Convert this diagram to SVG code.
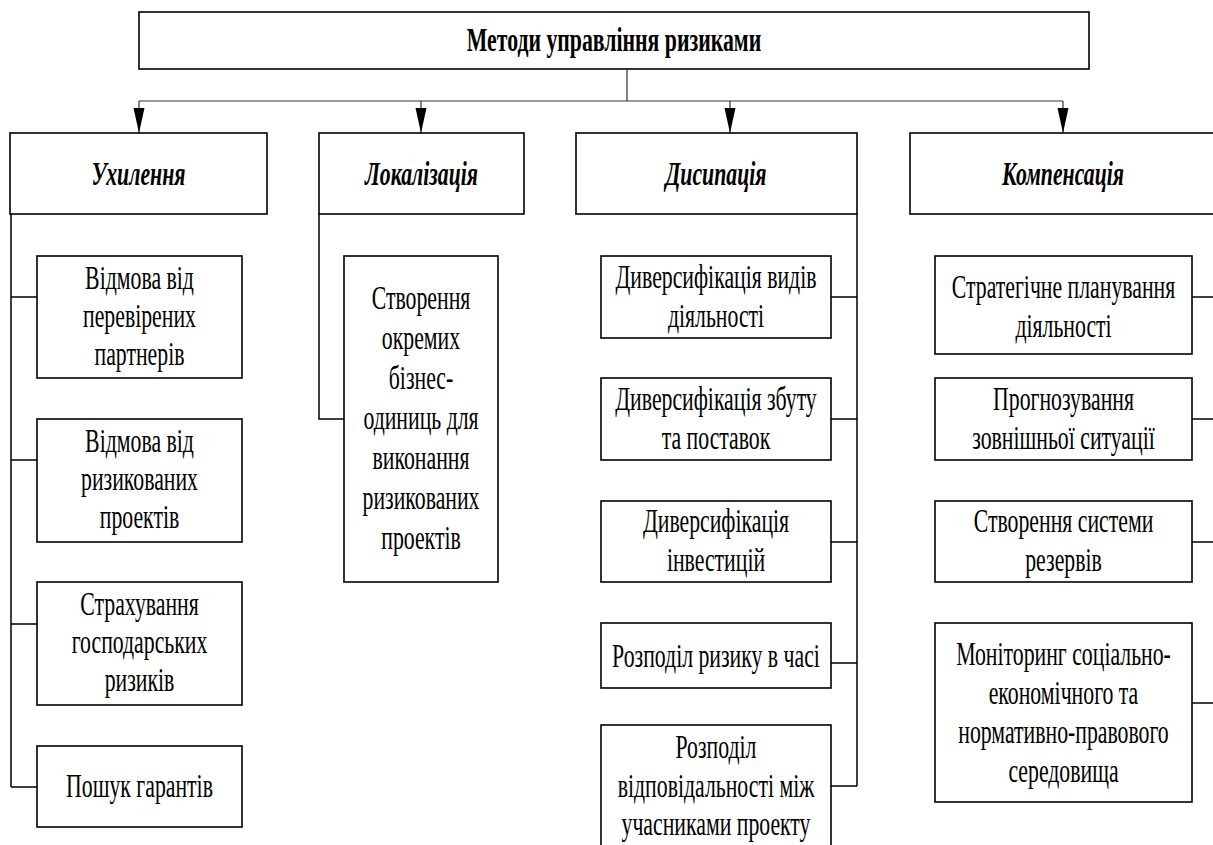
<svg xmlns="http://www.w3.org/2000/svg" width="1213" height="845" viewBox="0 0 1213 845">
<style>
.box{fill:#fff;stroke:#000;stroke-width:1.6}
.t{font-family:"Liberation Serif","Tinos","Times New Roman","DejaVu Serif","Noto Serif",serif;font-size:33px;text-anchor:middle;fill:#000}
.ttl{font-weight:bold}
.cat{font-style:italic;font-weight:bold}
.ln{stroke:#000;stroke-width:1.5;fill:none}
.thin{stroke:#333;stroke-width:1.2;fill:none}
</style>
<defs>
<marker id="ah" markerUnits="userSpaceOnUse" markerWidth="26" markerHeight="12" refX="25" refY="6" orient="auto">
<path d="M0,0.5 L25,6 L0,11.5 z" fill="#000"/>
</marker>
</defs>
<rect width="1213" height="845" fill="#fff"/>
<g id="connectors">
<path class="thin" d="M627,69 V101 M139,101 H1063"/>
<line class="thin" x1="139" y1="101" x2="139" y2="133" marker-end="url(#ah)"/>
<line class="thin" x1="421" y1="101" x2="421" y2="133" marker-end="url(#ah)"/>
<line class="thin" x1="730" y1="101" x2="730" y2="133" marker-end="url(#ah)"/>
<line class="thin" x1="1063" y1="101" x2="1063" y2="133" marker-end="url(#ah)"/>
<path class="ln" d="M11,214 V787 M11,297 H37 M11,460 H37 M11,624 H37 M11,787 H37"/>
<path class="ln" d="M319,214 V419 H344"/>
<path class="ln" d="M857,214 V786 M831,297 H857 M831,419 H857 M831,542 H857 M831,663 H857 M831,786 H857"/>
<path class="ln" d="M1217,214 V703 M1192,297 H1217 M1192,419 H1217 M1192,542 H1217 M1192,703 H1217"/>
</g>
<g id="root">
<rect class="box" x="139" y="12" width="950" height="57"/>
<text class="t ttl" transform="translate(614,0) scale(0.66,1)"><tspan x="0" y="51">Методи управління ризиками</tspan></text>
</g>
<g id="cat-uhylennia">
<rect class="box" x="10" y="133" width="257" height="81"/>
<text class="t cat" transform="translate(138.5,0) scale(0.66,1)"><tspan x="0" y="185">Ухилення</tspan></text>
</g>
<g id="cat-lokalizatsiia">
<rect class="box" x="319" y="133" width="205" height="81"/>
<text class="t cat" transform="translate(421.5,0) scale(0.66,1)"><tspan x="0" y="185">Локалізація</tspan></text>
</g>
<g id="cat-dysypatsiia">
<rect class="box" x="576" y="133" width="281" height="81"/>
<text class="t cat" transform="translate(716,0) scale(0.66,1)"><tspan x="0" y="185">Дисипація</tspan></text>
</g>
<g id="cat-kompensatsiia">
<rect class="box" x="910" y="133" width="330" height="81"/>
<text class="t cat" transform="translate(1063,0) scale(0.66,1)"><tspan x="0" y="185">Компенсація</tspan></text>
</g>
<g id="u1">
<rect class="box" x="37" y="256" width="205" height="122"/>
<text class="t" transform="translate(139.5,0) scale(0.66,1)"><tspan x="0" y="289">Відмова від</tspan><tspan x="0" y="327">перевірених</tspan><tspan x="0" y="365">партнерів</tspan></text>
</g>
<g id="u2">
<rect class="box" x="37" y="419" width="205" height="123"/>
<text class="t" transform="translate(139.5,0) scale(0.66,1)"><tspan x="0" y="452">Відмова від</tspan><tspan x="0" y="490">ризикованих</tspan><tspan x="0" y="528">проектів</tspan></text>
</g>
<g id="u3">
<rect class="box" x="37" y="582" width="205" height="123"/>
<text class="t" transform="translate(139.5,0) scale(0.66,1)"><tspan x="0" y="615">Страхування</tspan><tspan x="0" y="653">господарських</tspan><tspan x="0" y="691">ризиків</tspan></text>
</g>
<g id="u4">
<rect class="box" x="37" y="746" width="205" height="81"/>
<text class="t" transform="translate(139.5,0) scale(0.66,1)"><tspan x="0" y="797">Пошук гарантів</tspan></text>
</g>
<g id="l1">
<rect class="box" x="344" y="256" width="154" height="326"/>
<text class="t" transform="translate(421,0) scale(0.66,1)"><tspan x="0" y="309">Створення</tspan><tspan x="0" y="349">окремих</tspan><tspan x="0" y="389">бізнес-</tspan><tspan x="0" y="429">одиниць для</tspan><tspan x="0" y="469">виконання</tspan><tspan x="0" y="509">ризикованих</tspan><tspan x="0" y="549">проектів</tspan></text>
</g>
<g id="d1">
<rect class="box" x="601" y="256" width="230" height="82"/>
<text class="t" transform="translate(716,0) scale(0.66,1)"><tspan x="0" y="288">Диверсифікація видів</tspan><tspan x="0" y="327">діяльності</tspan></text>
</g>
<g id="d2">
<rect class="box" x="601" y="378" width="230" height="82"/>
<text class="t" transform="translate(716,0) scale(0.66,1)"><tspan x="0" y="410">Диверсифікація збуту</tspan><tspan x="0" y="449">та поставок</tspan></text>
</g>
<g id="d3">
<rect class="box" x="601" y="501" width="230" height="81"/>
<text class="t" transform="translate(716,0) scale(0.66,1)"><tspan x="0" y="532">Диверсифікація</tspan><tspan x="0" y="571">інвестицій</tspan></text>
</g>
<g id="d4">
<rect class="box" x="601" y="623" width="230" height="65"/>
<text class="t" transform="translate(716,0) scale(0.66,1)"><tspan x="0" y="667">Розподіл ризику в часі</tspan></text>
</g>
<g id="d5">
<rect class="box" x="601" y="725" width="230" height="140"/>
<text class="t" transform="translate(716,0) scale(0.66,1)"><tspan x="0" y="758">Розподіл</tspan><tspan x="0" y="797">відповідальності між</tspan><tspan x="0" y="835">учасниками проекту</tspan></text>
</g>
<g id="k1">
<rect class="box" x="935" y="256" width="257" height="98"/>
<text class="t" transform="translate(1063.5,0) scale(0.66,1)"><tspan x="0" y="298">Стратегічне планування</tspan><tspan x="0" y="337">діяльності</tspan></text>
</g>
<g id="k2">
<rect class="box" x="935" y="378" width="257" height="82"/>
<text class="t" transform="translate(1063.5,0) scale(0.66,1)"><tspan x="0" y="410">Прогнозування</tspan><tspan x="0" y="449">зовнішньої ситуації</tspan></text>
</g>
<g id="k3">
<rect class="box" x="935" y="501" width="257" height="81"/>
<text class="t" transform="translate(1063.5,0) scale(0.66,1)"><tspan x="0" y="532">Створення системи</tspan><tspan x="0" y="571">резервів</tspan></text>
</g>
<g id="k4">
<rect class="box" x="935" y="623" width="257" height="179"/>
<text class="t" transform="translate(1063.5,0) scale(0.66,1)"><tspan x="0" y="665">Моніторинг соціально-</tspan><tspan x="0" y="704">економічного та</tspan><tspan x="0" y="743">нормативно-правового</tspan><tspan x="0" y="782">середовища</tspan></text>
</g>
</svg>
